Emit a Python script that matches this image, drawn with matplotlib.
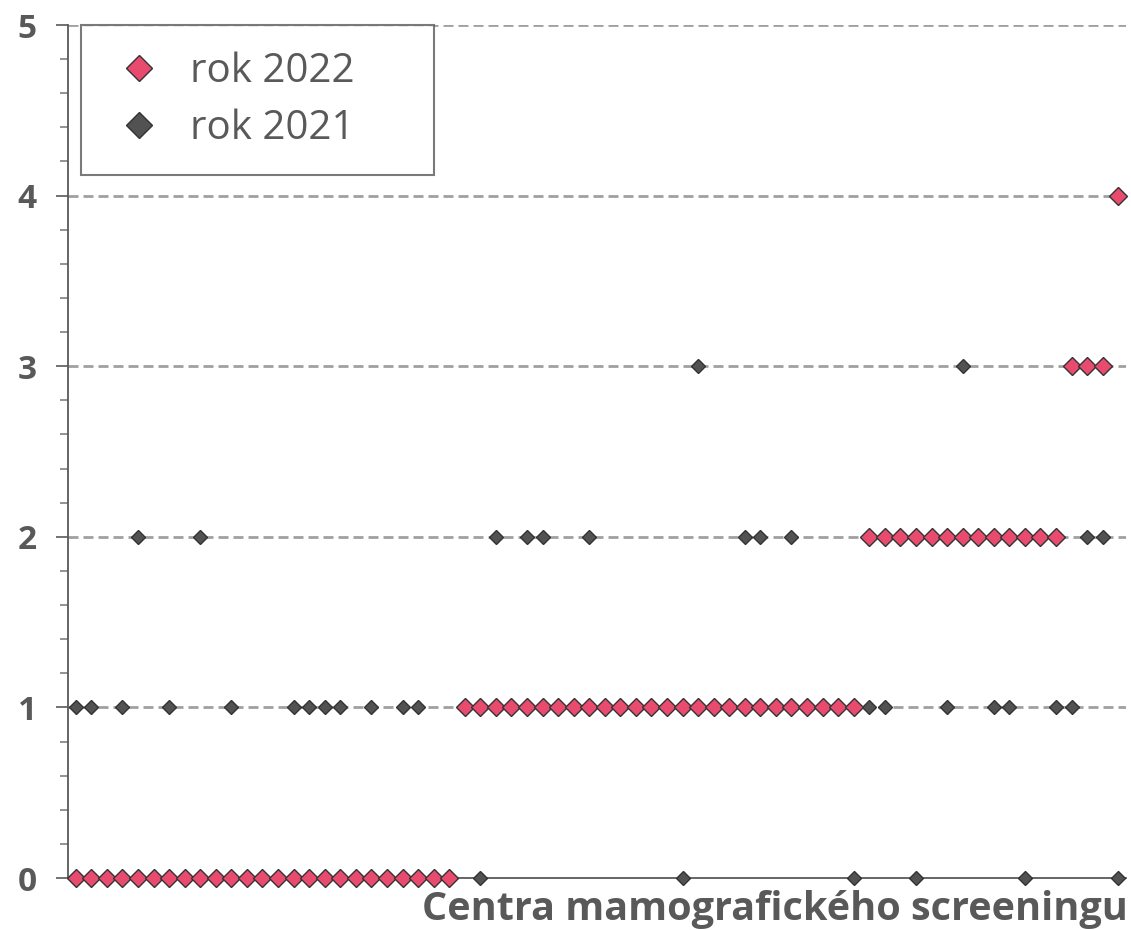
import matplotlib
matplotlib.use("Agg")
import matplotlib.pyplot as plt
from matplotlib.lines import Line2D
from matplotlib.ticker import MultipleLocator
import numpy as np

# počet center (pořadí podle hodnoty v roce 2022)
centra = np.arange(1, 69)

rok_2022 = [0] * 25 + [1] * 26 + [2] * 13 + [3] * 3 + [4]

rok_2021 = [
    1, 1, 0, 1, 2, 0, 1, 0, 2, 0, 1, 0, 0, 0, 1, 1, 1, 1, 0, 1, 0, 1, 1, 0, 0,
    1, 0, 2, 1, 2, 2, 1, 1, 2, 1, 1, 1, 1, 1, 0, 3, 1, 1, 2, 2, 1, 2, 1, 1, 1, 0,
    1, 1, 2, 0, 2, 1, 3, 2, 1, 1, 0, 2, 1,
    1, 2, 2,
    0,
]

serie_labels = ["rok 2022", "rok 2021"]
y_ticks = [0, 1, 2, 3, 4, 5]
x_label = "Centra mamografického screeningu"

pink = "#E94B6E"
dark = "#525252"
edge = "#333333"
text_gray = "#595959"

plt.rcParams["font.family"] = ["Open Sans", "DejaVu Sans"]

W, H = 1131, 930
fig = plt.figure(figsize=(W / 100, H / 100), dpi=100)
ax = fig.add_axes([68 / W, 1 - 878 / H, (1126 - 68) / W, (878 - 25) / H])

# grid at integer values
for y in y_ticks[1:]:
    ax.axhline(y, color="#A0A0A0", lw=2, ls=(0, (3.6, 1.8)), zorder=1)

ax.plot(centra, rok_2021, ls="none", marker="D", ms=7.6, mfc=dark, mec=edge,
        mew=1.0, clip_on=False, zorder=3)
ax.plot(centra, rok_2022, ls="none", marker="D", ms=9.2, mfc=pink, mec=edge,
        mew=1.0, clip_on=False, zorder=4)

ax.set_xlim(0.5, 68.5)
ax.set_ylim(0, 5)

for side in ["top", "right"]:
    ax.spines[side].set_visible(False)
for side in ["left", "bottom"]:
    ax.spines[side].set_color(text_gray)
    ax.spines[side].set_linewidth(1.3)
    ax.spines[side].set_zorder(2)

ax.set_xticks([])
ax.set_yticks(y_ticks)
ax.yaxis.set_minor_locator(MultipleLocator(0.2))
ax.tick_params(axis="y", which="major", length=8.5, width=1.2, color=text_gray,
               labelsize=24, labelcolor=text_gray, pad=14)
ax.tick_params(axis="y", which="minor", length=6, width=1.2, color="#808080")
for lbl in ax.get_yticklabels():
    lbl.set_fontweight("bold")

fig.text(1128 / W, 1 - 920 / H, x_label, ha="right", va="baseline",
         fontsize=28.5, fontweight="bold", color=text_gray)

# legend markers are drawn larger than the ones in the plot
handles = [
    Line2D([], [], ls="none", marker="D", ms=13.5, mfc=c, mec=edge, mew=1.0)
    for c in (pink, dark)
]
x0 = (81 - 68) / (1126 - 68)
w = (434 - 81) / (1126 - 68)
leg = ax.legend(handles, serie_labels, loc="upper left",
                bbox_to_anchor=(x0, 0.0, w, 1.0), mode="expand",
                fontsize=29, frameon=True, fancybox=False, borderpad=0.65,
                handletextpad=0.45, labelspacing=0.42, handlelength=1.6,
                borderaxespad=0)
leg.get_frame().set_edgecolor(text_gray)
leg.get_frame().set_linewidth(1.5)
for t in leg.get_texts():
    t.set_color(text_gray)

fig.savefig("out.png", dpi=100)
